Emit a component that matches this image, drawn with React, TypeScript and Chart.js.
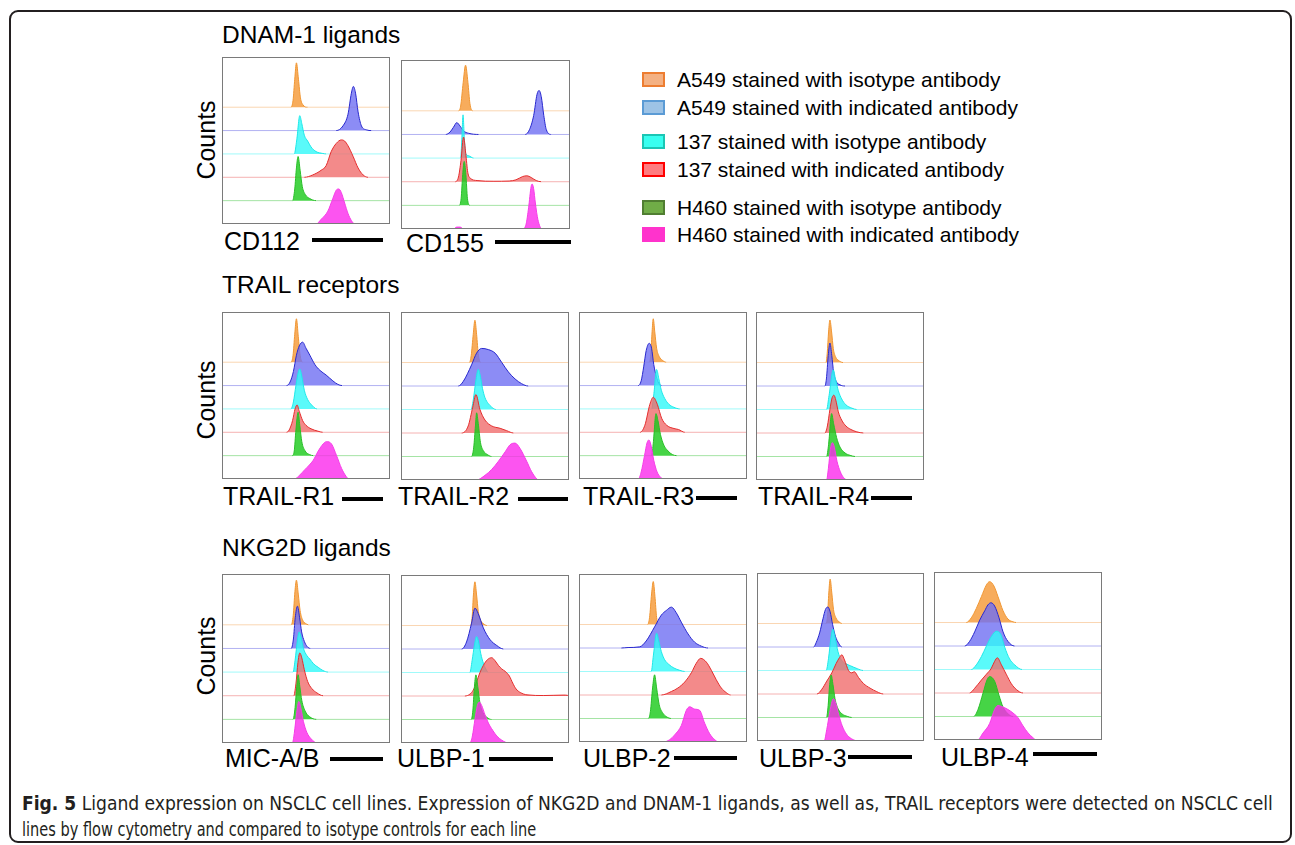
import React, { useEffect, useLayoutEffect, useRef } from "react";
import { Chart, registerables } from "chart.js";

Chart.register(...registerables);

type Pt = [number, number];

// Legend / series
const SERIES_LABELS = [
  "A549 stained with isotype antibody",
  "A549 stained with indicated antibody",
  "137 stained with isotype antibody",
  "137 stained with indicated antibody",
  "H460 stained with isotype antibody",
  "H460 stained with indicated antibody",
];
// vertical offset (row) of each series inside a panel, top to bottom
const ROW_OFFSETS = [5, 4, 3, 2, 1, 0];
const Y_MAX = 7.15;

const GROUP_TITLES = ["DNAM-1 ligands", "TRAIL receptors", "NKG2D ligands"];
const AXIS_TITLE = "Counts";

// Histogram series: [fluorescence position (0-100), relative count]
// order: A549 iso, A549 ind, 137 iso, 137 ind, H460 iso, H460 ind
const CD112: Pt[][] = [
  [[41, 0], [42.3, 0.3], [43.3, 1.2], [44.3, 1.9], [45.5, 1.2], [46.7, 0.4], [48.2, 0.1], [51, 0]],
  [[68, 0], [72, 0.2], [75, 0.7], [77, 1.6], [78.2, 1.89], [79.5, 1.6], [81, 0.8], [83, 0.2], [86, 0.03], [89, 0]],
  [[43, 0], [44.5, 0.6], [46.3, 1.64], [47.5, 1.3], [49, 0.8], [51, 0.55], [53, 0.3], [56, 0.1], [60, 0.02], [62, 0]],
  [[49, 0], [54, 0.1], [59, 0.3], [62, 0.5], [65, 1.1], [68, 1.45], [71, 1.6], [73, 1.55], [75, 1.35], [78, 0.9], [81, 0.4], [84, 0.1], [87, 0]],
  [[42, 0], [43.3, 0.5], [44.3, 1.4], [45.3, 1.89], [46.5, 1.3], [47.8, 0.6], [49.7, 0.25], [52, 0.1], [56, 0]],
  [[56, 0], [59, 0.2], [63, 0.55], [66, 1.1], [68, 1.45], [69.5, 1.5], [71, 1.35], [73, 0.9], [75, 0.45], [77, 0.15], [79, 0]],
];
const CD155: Pt[][] = [
  [[34, 0], [35.3, 0.2], [36.8, 1.2], [38.2, 1.93], [39.6, 1.2], [40.8, 0.3], [42.5, 0]],
  [[26.5, 0], [29, 0.1], [31, 0.3], [33, 0.5], [35, 0.35], [37, 0.15], [40, 0.05], [46, 0], [73.5, 0], [76, 0.2], [78.5, 0.8], [80.5, 1.7], [81.7, 1.86], [83, 1.6], [84.5, 0.8], [86, 0.2], [89, 0]],
  [[35.3, 0], [36, 0.8], [36.7, 1.83], [37.5, 0.8], [38.3, 0.2], [40, 0.1], [43, 0]],
  [[32, 0], [34, 0.2], [35.5, 0.9], [37, 1.89], [38.3, 1.2], [39.5, 0.4], [41, 0.15], [45, 0.05], [55, 0.02], [64, 0.03], [68, 0.08], [72, 0.22], [74.5, 0.25], [77, 0.18], [80, 0.05], [83, 0]],
  [[34.5, 0], [35.6, 0.3], [36.5, 1.3], [37.4, 1.86], [38.4, 1.3], [39.3, 0.3], [40.8, 0]],
  [[31, 0], [33, 0.08], [35, 0.08], [37, 0], [72, 0], [74, 0.2], [75.5, 0.9], [77, 1.8], [77.6, 1.9], [78.5, 1.7], [79.5, 1.1], [81, 0.4], [83.5, 0]],
];
const TRAIL_R1: Pt[][] = [
  [[41, 0], [42.3, 0.3], [43.3, 1.2], [44.3, 1.86], [45.4, 1.1], [46.5, 0.3], [48, 0]],
  [[38.4, 0], [40.5, 0.15], [42.5, 0.6], [44.3, 1.3], [46, 1.7], [48, 1.86], [50, 1.6], [52.3, 1.3], [55.3, 0.9], [58.3, 0.65], [62, 0.45], [66, 0.2], [69, 0.05], [71.5, 0]],
  [[41, 0], [42.5, 0.3], [44, 1.0], [45.5, 1.6], [46.3, 1.71], [47.5, 1.4], [49, 0.8], [51, 0.4], [53, 0.2], [56.5, 0]],
  [[38.4, 0], [40, 0.1], [42, 0.5], [43.5, 1.0], [44.7, 1.17], [46, 0.9], [48, 0.5], [50, 0.3], [53, 0.15], [57, 0.05], [60, 0]],
  [[41.7, 0], [43, 0.2], [44, 1.1], [45.3, 1.86], [46.3, 1.3], [47.5, 0.6], [49.5, 0.2], [52, 0.05], [54.5, 0]],
  [[43.3, 0], [46, 0.15], [49.3, 0.4], [52, 0.6], [54.3, 0.8], [57.3, 1.2], [60.2, 1.5], [62.2, 1.6], [65.2, 1.5], [68.2, 1.0], [71.2, 0.45], [74, 0.1], [75.5, 0]],
];
const TRAIL_R2: Pt[][] = [
  [[40.7, 0], [41.8, 0.3], [43, 1.2], [44, 1.8], [45, 1.2], [46.1, 0.3], [47.5, 0]],
  [[34.1, 0], [37.1, 0.2], [42, 0.9], [45, 1.4], [48, 1.6], [52, 1.55], [56, 1.4], [60, 1.0], [63.9, 0.6], [67.9, 0.3], [71.8, 0.1], [75.8, 0]],
  [[41.7, 0], [43, 0.4], [44.5, 1.2], [46, 1.71], [47, 1.5], [48.5, 0.9], [50, 0.5], [52, 0.25], [54, 0.1], [56.5, 0]],
  [[36.1, 0], [40, 0.3], [42.7, 1.1], [44.6, 1.64], [47, 1.0], [50, 0.55], [54, 0.3], [59, 0.2], [62.9, 0.1], [67, 0]],
  [[42, 0], [43.3, 0.4], [44.3, 1.3], [45, 1.86], [46, 1.4], [47.3, 0.6], [49, 0.25], [51.5, 0.08], [54, 0]],
  [[45, 0], [50, 0.2], [54, 0.45], [58, 0.8], [62, 1.2], [64.9, 1.5], [67.9, 1.57], [70.8, 1.35], [74.8, 0.8], [77.8, 0.35], [80.8, 0.05], [82, 0]],
];
const TRAIL_R3: Pt[][] = [
  [[42, 0], [42.8, 0.4], [43.5, 1.3], [44.2, 1.86], [45.1, 1.3], [46.2, 0.6], [47.7, 0.25], [49.7, 0.08], [52, 0]],
  [[35.3, 0], [37, 0.2], [38.5, 0.8], [40, 1.5], [41.8, 1.81], [43.2, 1.6], [44.5, 0.9], [46, 0.4], [47.5, 0.1], [49.2, 0]],
  [[43.2, 0], [44.5, 0.6], [46.2, 1.69], [47.5, 1.3], [49, 0.8], [51, 0.45], [53.5, 0.2], [56.5, 0.07], [60, 0]],
  [[36.3, 0], [39.2, 0.3], [42.2, 1.2], [44.2, 1.5], [46.6, 1.2], [49.2, 0.6], [52.2, 0.3], [57.2, 0.15], [59.2, 0.12], [63, 0]],
  [[43.2, 0], [44.3, 0.6], [45.8, 1.8], [47, 1.5], [48.5, 0.9], [50.5, 0.45], [53, 0.2], [55.5, 0.05], [58.2, 0]],
  [[35.3, 0], [37, 0.3], [39, 1.0], [40.5, 1.55], [41.6, 1.67], [43, 1.4], [44.5, 0.8], [46.5, 0.3], [48.5, 0.08], [50.2, 0]],
];
const TRAIL_R4: Pt[][] = [
  [[41.6, 0], [42.4, 0.4], [43.2, 1.3], [44, 1.81], [45, 1.3], [46, 0.6], [47.3, 0.25], [49.3, 0.08], [51.8, 0]],
  [[41, 0], [41.9, 0.3], [43, 1.3], [44, 1.83], [45.1, 1.3], [46.2, 0.6], [47.7, 0.2], [50, 0.05], [53, 0]],
  [[42, 0], [43.5, 0.6], [46, 1.69], [47.3, 1.3], [49, 0.8], [51, 0.45], [53.5, 0.2], [57, 0.06], [60, 0]],
  [[41, 0], [42.5, 0.3], [44, 1.0], [45.3, 1.5], [46.4, 1.61], [47.5, 1.4], [49, 0.9], [51, 0.55], [53.5, 0.3], [56.5, 0.15], [60, 0.05], [64, 0]],
  [[42, 0], [43.2, 0.5], [45, 1.83], [46.2, 1.4], [48, 0.8], [50, 0.4], [53, 0.15], [56, 0.05], [59, 0]],
  [[42, 0], [43.1, 0.5], [44.3, 1.3], [45.4, 1.59], [46.6, 1.4], [48.2, 0.8], [50.2, 0.35], [52.2, 0.1], [54.6, 0]],
];
const MIC_AB: Pt[][] = [
  [[41.2, 0], [42.4, 0.4], [43.4, 1.4], [44.3, 1.89], [45.4, 1.3], [46.5, 0.6], [48, 0.2], [49.7, 0.06], [51.5, 0]],
  [[41.2, 0], [42.5, 0.4], [43.6, 1.3], [44.9, 1.79], [46.2, 1.3], [47.4, 0.7], [49, 0.3], [50.7, 0.08], [52.7, 0]],
  [[42.3, 0], [43.5, 0.5], [45, 1.4], [45.9, 1.7], [47, 1.5], [48.5, 1.0], [50.5, 0.7], [52.3, 0.55], [54.5, 0.35], [57.3, 0.2], [60, 0.07], [63.2, 0]],
  [[42.7, 0], [44, 0.5], [45.2, 1.4], [46.3, 1.81], [47.5, 1.6], [49, 1.1], [51, 0.6], [53.5, 0.3], [56.5, 0.12], [60.2, 0]],
  [[42.3, 0], [43.5, 0.5], [44.5, 1.4], [45.3, 1.89], [46.3, 1.4], [47.5, 0.8], [49.5, 0.35], [52, 0.12], [56.3, 0]],
  [[41.9, 0], [43, 0.4], [44.5, 1.3], [45.7, 1.76], [47, 1.45], [48.5, 0.9], [50.5, 0.45], [53, 0.18], [56.7, 0]],
];
const ULBP1: Pt[][] = [
  [[41.4, 0], [42.4, 0.4], [43.1, 1.3], [44, 1.86], [45, 1.3], [46, 0.6], [47.5, 0.2], [49.2, 0.07], [51.2, 0]],
  [[36.1, 0], [39, 0.3], [42, 1.1], [44, 1.74], [46, 1.5], [49, 0.9], [53, 0.4], [57, 0.15], [61, 0]],
  [[41, 0], [42.3, 0.5], [43.8, 1.2], [45, 1.53], [46.2, 1.3], [47.5, 0.8], [49, 0.4], [50.5, 0.15], [52, 0]],
  [[38, 0], [41, 0.08], [43, 0.25], [45, 0.6], [47, 1.0], [49, 1.3], [51.5, 1.55], [54, 1.63], [56, 1.5], [58, 1.3], [60, 1.15], [62, 1.05], [64.5, 0.85], [66.5, 0.55], [68.5, 0.3], [71, 0.15], [75, 0.05], [85, 0.02], [97, 0.04], [99, 0.03]],
  [[41.8, 0], [42.8, 0.4], [43.6, 1.3], [44.6, 1.9], [45.7, 1.4], [47, 0.7], [48.7, 0.3], [51, 0.1], [54, 0]],
  [[41, 0], [42.5, 0.3], [44, 1.0], [45.5, 1.6], [46.6, 1.74], [48, 1.6], [50, 1.2], [52, 0.85], [54.5, 0.55], [57, 0.3], [60, 0.12], [64, 0]],
];
const ULBP2: Pt[][] = [
  [[40.8, 0], [42, 0.3], [43.2, 1.3], [44.2, 1.83], [45.2, 1.2], [46.2, 0.3], [47.3, 0]],
  [[25.2, 0], [29.2, 0.02], [36.1, 0.05], [40, 0.3], [45, 0.9], [49, 1.4], [52, 1.6], [55, 1.74], [57.9, 1.5], [60.9, 1.1], [64.9, 0.6], [68.8, 0.25], [72.8, 0.08], [76.8, 0]],
  [[43, 0], [44.3, 0.7], [46.2, 1.63], [47.5, 1.3], [49, 0.85], [51, 0.5], [53.5, 0.3], [56.5, 0.15], [60, 0.05], [63, 0]],
  [[49, 0], [55, 0.15], [58.9, 0.3], [62.9, 0.55], [66.9, 0.95], [69.8, 1.35], [72.4, 1.56], [75.8, 1.4], [78.8, 1.05], [81.7, 0.65], [84.7, 0.3], [87.7, 0.1], [90.3, 0]],
  [[41.3, 0], [42.5, 0.3], [43.8, 1.3], [45, 1.86], [46.2, 1.3], [47.7, 0.6], [49.7, 0.25], [52, 0.08], [55, 0]],
  [[50, 0], [54, 0.1], [56.9, 0.3], [60.9, 0.7], [63.9, 1.35], [65.9, 1.5], [68.8, 1.4], [71.8, 1.35], [74.8, 0.8], [77.8, 0.35], [80.8, 0.1], [83.1, 0]],
];
const ULBP3: Pt[][] = [
  [[41.2, 0], [42.2, 0.3], [43, 1.3], [43.8, 1.89], [44.8, 1.3], [45.8, 0.6], [47.2, 0.25], [49.2, 0.07], [51, 0]],
  [[33.9, 0], [35.5, 0.2], [37.5, 0.6], [39.5, 1.2], [41, 1.6], [42.4, 1.7], [43.8, 1.5], [45.3, 0.95], [47, 0.45], [49, 0.15], [50.8, 0]],
  [[41.4, 0], [42.8, 0.5], [44.3, 1.4], [45.4, 1.76], [46.8, 1.4], [48.5, 0.8], [50.5, 0.45], [53, 0.3], [56, 0.2], [60, 0.08], [63.7, 0]],
  [[35.9, 0], [38.8, 0.2], [41.8, 0.55], [44.8, 0.9], [47.4, 1.3], [49.4, 1.55], [50.8, 1.67], [52.4, 1.45], [54.8, 1.0], [56.8, 0.9], [58.2, 0.95], [60.8, 0.7], [63.7, 0.45], [67.7, 0.25], [71.7, 0.1], [75.7, 0]],
  [[41.6, 0], [42.6, 0.5], [43.5, 1.4], [44.4, 1.81], [45.5, 1.4], [46.7, 0.8], [48.7, 0.35], [51, 0.15], [54, 0.05], [56.8, 0]],
  [[40.2, 0], [41.8, 0.5], [43.5, 1.2], [45, 1.7], [45.8, 1.8], [47.2, 1.6], [49, 1.1], [51, 0.65], [53.5, 0.3], [56.5, 0.1], [60.8, 0]],
];
const ULBP4: Pt[][] = [
  [[19.2, 0], [22.2, 0.2], [25.2, 0.6], [28.2, 1.1], [31.2, 1.6], [33.1, 1.74], [35.7, 1.55], [38.1, 1.1], [41.1, 0.5], [44, 0.15], [47, 0.03], [49, 0]],
  [[18.3, 0], [21.2, 0.2], [24.2, 0.6], [27.2, 1.1], [30.2, 1.5], [32.1, 1.75], [33.9, 1.84], [36.1, 1.7], [38.7, 1.2], [41.1, 0.6], [44, 0.2], [48, 0]],
  [[22.2, 0], [25.2, 0.2], [28.2, 0.55], [31.2, 1.0], [34.1, 1.4], [37.1, 1.63], [39.7, 1.5], [42.1, 0.95], [45, 0.45], [48, 0.2], [52.4, 0]],
  [[21.2, 0], [24.2, 0.2], [28.2, 0.55], [31.2, 0.8], [34.1, 1.05], [36.1, 1.35], [37.7, 1.5], [40.1, 1.2], [43, 0.8], [46, 0.4], [49, 0.15], [53, 0]],
  [[23.6, 0], [26.2, 0.3], [29.2, 1.0], [31.5, 1.55], [33.1, 1.7], [36.1, 1.5], [38.7, 0.9], [41.1, 0.4], [44, 0.12], [47, 0]],
  [[25.8, 0], [29.2, 0.3], [33.1, 0.7], [36.1, 1.3], [38.1, 1.47], [41.1, 1.4], [44, 1.3], [47, 1.15], [50, 0.95], [53, 0.6], [56, 0.3], [58.9, 0.1], [60.9, 0]],
];

// Colours
const FILL_COLORS = [
  "rgba(245,151,51,0.8)",
  "rgba(111,111,243,0.8)",
  "rgba(49,249,249,0.8)",
  "rgba(240,109,109,0.8)",
  "rgba(24,201,24,0.8)",
  "rgba(251,41,236,0.8)",
];
const LINE_COLORS = ["rgb(240,150,50)", "rgb(40,40,205)", "rgb(30,232,232)", "rgb(228,45,45)", "rgb(40,190,40)", "rgb(245,60,230)"];
const BASE_COLORS = ["rgb(250,214,178)", "rgb(178,178,242)", "rgb(160,250,250)", "rgb(245,178,178)", "rgb(165,228,165)", "rgb(250,170,245)"];
const LEGEND_FILL = ["#F4B183", "#9DC3E6", "#38FFF0", "#FF7C80", "#70AD47", "#FF33CC"];
const LEGEND_EDGE = ["#ED7D31", "#5B9BD5", "#1BC6B4", "#FF0000", "#507E32", "#FF33CC"];

const CAPTION_BOLD = "Fig. 5";
const CAPTION_LINE1 =
  " Ligand expression on NSCLC cell lines. Expression of NKG2D and DNAM-1 ligands, as well as, TRAIL receptors were detected on NSCLC cell";
const CAPTION_LINE2 = "lines by flow cytometry and compared to isotype controls for each line";

// Layout (pixels)
const PANELS = [
  { name: "CD112", series: CD112, left: 222, top: 57, w: 168, h: 167, lx: 224, lb: 250, bx: 312, bw: 71, by: 240 },
  { name: "CD155", series: CD155, left: 401, top: 60, w: 169, h: 169, lx: 406, lb: 252, bx: 495, bw: 76, by: 242 },
  { name: "TRAIL-R1", series: TRAIL_R1, left: 222, top: 312, w: 168, h: 167, lx: 223, lb: 505, bx: 342, bw: 41, by: 499 },
  { name: "TRAIL-R2", series: TRAIL_R2, left: 401, top: 312, w: 168, h: 168, lx: 398, lb: 505, bx: 518, bw: 50, by: 499 },
  { name: "TRAIL-R3", series: TRAIL_R3, left: 579, top: 312, w: 168, h: 167, lx: 583, lb: 505, bx: 696, bw: 41, by: 498 },
  { name: "TRAIL-R4", series: TRAIL_R4, left: 756, top: 312, w: 168, h: 168, lx: 758, lb: 505, bx: 871, bw: 41, by: 498 },
  { name: "MIC-A/B", series: MIC_AB, left: 222, top: 574, w: 168, h: 169, lx: 225, lb: 767, bx: 330, bw: 53, by: 759 },
  { name: "ULBP-1", series: ULBP1, left: 401, top: 575, w: 168, h: 168, lx: 397, lb: 767, bx: 489, bw: 64, by: 759 },
  { name: "ULBP-2", series: ULBP2, left: 579, top: 574, w: 168, h: 168, lx: 583, lb: 767, bx: 674, bw: 63, by: 758 },
  { name: "ULBP-3", series: ULBP3, left: 757, top: 573, w: 167, h: 168, lx: 759, lb: 767, bx: 848, bw: 64, by: 757 },
  { name: "ULBP-4", series: ULBP4, left: 934, top: 572, w: 168, h: 168, lx: 941, lb: 766, bx: 1033, bw: 64, by: 754 },
];
const TITLE_POS = [
  { x: 222, b: 44 },
  { x: 222, b: 294 },
  { x: 222, b: 557 },
];
const COUNTS_CY = [140, 400, 656];
const LEGEND_ROWS_Y = [79, 107, 141, 169, 207, 234];

const FONT = "'Liberation Sans', Arial, Helvetica, sans-serif";

const framePlugin = {
  id: "frame",
  afterDraw(chart: any) {
    const { ctx, chartArea: a } = chart;
    ctx.save();
    ctx.strokeStyle = "#7a7a7a";
    ctx.lineWidth = 1;
    ctx.strokeRect(a.left + 0.5, a.top + 0.5, a.right - a.left - 1, a.bottom - a.top - 1);
    ctx.restore();
  },
};

function Panel({ p }: { p: (typeof PANELS)[number] }) {
  const ref = useRef<HTMLCanvasElement>(null);
  useEffect(() => {
    if (!ref.current) return;
    const datasets = p.series.map((pts, i) => {
      const off = ROW_OFFSETS[i];
      const data = [{ x: 0, y: off }, ...pts.map(([x, hh]) => ({ x, y: off + hh })), { x: 100, y: off }];
      return {
        label: SERIES_LABELS[i],
        data,
        order: off,
        borderColor: LINE_COLORS[i],
        backgroundColor: FILL_COLORS[i],
        borderWidth: 1,
        pointRadius: 0,
        fill: { value: off },
        cubicInterpolationMode: "monotone" as const,
        segment: {
          borderColor: (c: any) =>
            Math.abs(c.p0.parsed.y - off) < 1e-9 && Math.abs(c.p1.parsed.y - off) < 1e-9 ? BASE_COLORS[i] : undefined,
        },
      };
    });
    const chart = new Chart(ref.current, {
      type: "line",
      data: { datasets } as any,
      options: {
        animation: false,
        responsive: false,
        maintainAspectRatio: false,
        devicePixelRatio: 1,
        layout: { padding: 0 },
        events: [],
        scales: {
          x: { type: "linear", min: 0, max: 100, display: false },
          y: { type: "linear", min: 0, max: Y_MAX, display: false },
        },
        plugins: { legend: { display: false }, tooltip: { enabled: false } },
      },
      plugins: [framePlugin],
    });
    return () => chart.destroy();
  }, [p]);
  return (
    <canvas
      ref={ref}
      width={p.w}
      height={p.h}
      style={{ position: "absolute", left: p.left, top: p.top, width: p.w, height: p.h }}
    />
  );
}

function Txt({ x, b, size, children, bold }: any) {
  return (
    <div
      style={{
        position: "absolute",
        left: x,
        top: b - 0.8465 * size,
        fontSize: size,
        lineHeight: 1,
        fontFamily: FONT,
        fontWeight: bold ? "bold" : "normal",
        color: "#000",
        whiteSpace: "nowrap",
      }}
    >
      {children}
    </div>
  );
}

function FitLine({ x, b, width, size, children }: any) {
  const ref = useRef<HTMLDivElement>(null);
  useLayoutEffect(() => {
    const el = ref.current;
    if (!el) return;
    el.style.transform = "none";
    const w = el.scrollWidth;
    if (w > 0) el.style.transform = `scaleX(${width / w})`;
  }, [width]);
  return (
    <div
      ref={ref}
      style={{
        position: "absolute",
        left: x,
        top: b - 0.8465 * size,
        fontSize: size,
        lineHeight: 1,
        fontFamily: "'Liberation Sans Narrow', 'DejaVu Sans Condensed', 'Open Sans', 'Noto Sans', sans-serif",
        fontStretch: "condensed",
        color: "#231F20",
        whiteSpace: "nowrap",
        transformOrigin: "0 0",
      }}
    >
      {children}
    </div>
  );
}

export default function App() {
  return (
    <div style={{ position: "absolute", left: 0, top: 0, width: 1295, height: 845, background: "#fff", overflow: "hidden" }}>
      <div
        style={{
          position: "absolute",
          left: 9,
          top: 10,
          width: 1283,
          height: 833,
          border: "2px solid #231F20",
          borderRadius: 9,
          boxSizing: "border-box",
        }}
      />
      {GROUP_TITLES.map((t, i) => (
        <Txt key={t} x={TITLE_POS[i].x} b={TITLE_POS[i].b} size={24.5}>
          {t}
        </Txt>
      ))}
      {COUNTS_CY.map((cy, i) => (
        <div
          key={i}
          style={{
            position: "absolute",
            left: 206,
            top: cy,
            transform: "translate(-50%, -50%) rotate(-90deg)",
            fontSize: 25,
            lineHeight: 1,
            fontFamily: FONT,
            whiteSpace: "nowrap",
          }}
        >
          {AXIS_TITLE}
        </div>
      ))}
      {PANELS.map((p) => (
        <React.Fragment key={p.name}>
          <Panel p={p} />
          <Txt x={p.lx} b={p.lb} size={25}>
            {p.name}
          </Txt>
          <div style={{ position: "absolute", left: p.bx, top: p.by - 2, width: p.bw, height: 4, background: "#000" }} />
        </React.Fragment>
      ))}
      {SERIES_LABELS.map((s, i) => (
        <React.Fragment key={s}>
          <div
            style={{
              position: "absolute",
              left: 642,
              top: LEGEND_ROWS_Y[i] - 7.5,
              width: 23,
              height: 15,
              background: LEGEND_FILL[i],
              border: `2px solid ${LEGEND_EDGE[i]}`,
              boxSizing: "border-box",
            }}
          />
          <Txt x={677} b={LEGEND_ROWS_Y[i] + 7.5} size={21}>
            {s}
          </Txt>
        </React.Fragment>
      ))}
      <FitLine x={22} b={810} width={1251} size={20}>
        <b>{CAPTION_BOLD}</b>
        {CAPTION_LINE1}
      </FitLine>
      <FitLine x={22} b={836} width={514} size={20}>
        {CAPTION_LINE2}
      </FitLine>
    </div>
  );
}
